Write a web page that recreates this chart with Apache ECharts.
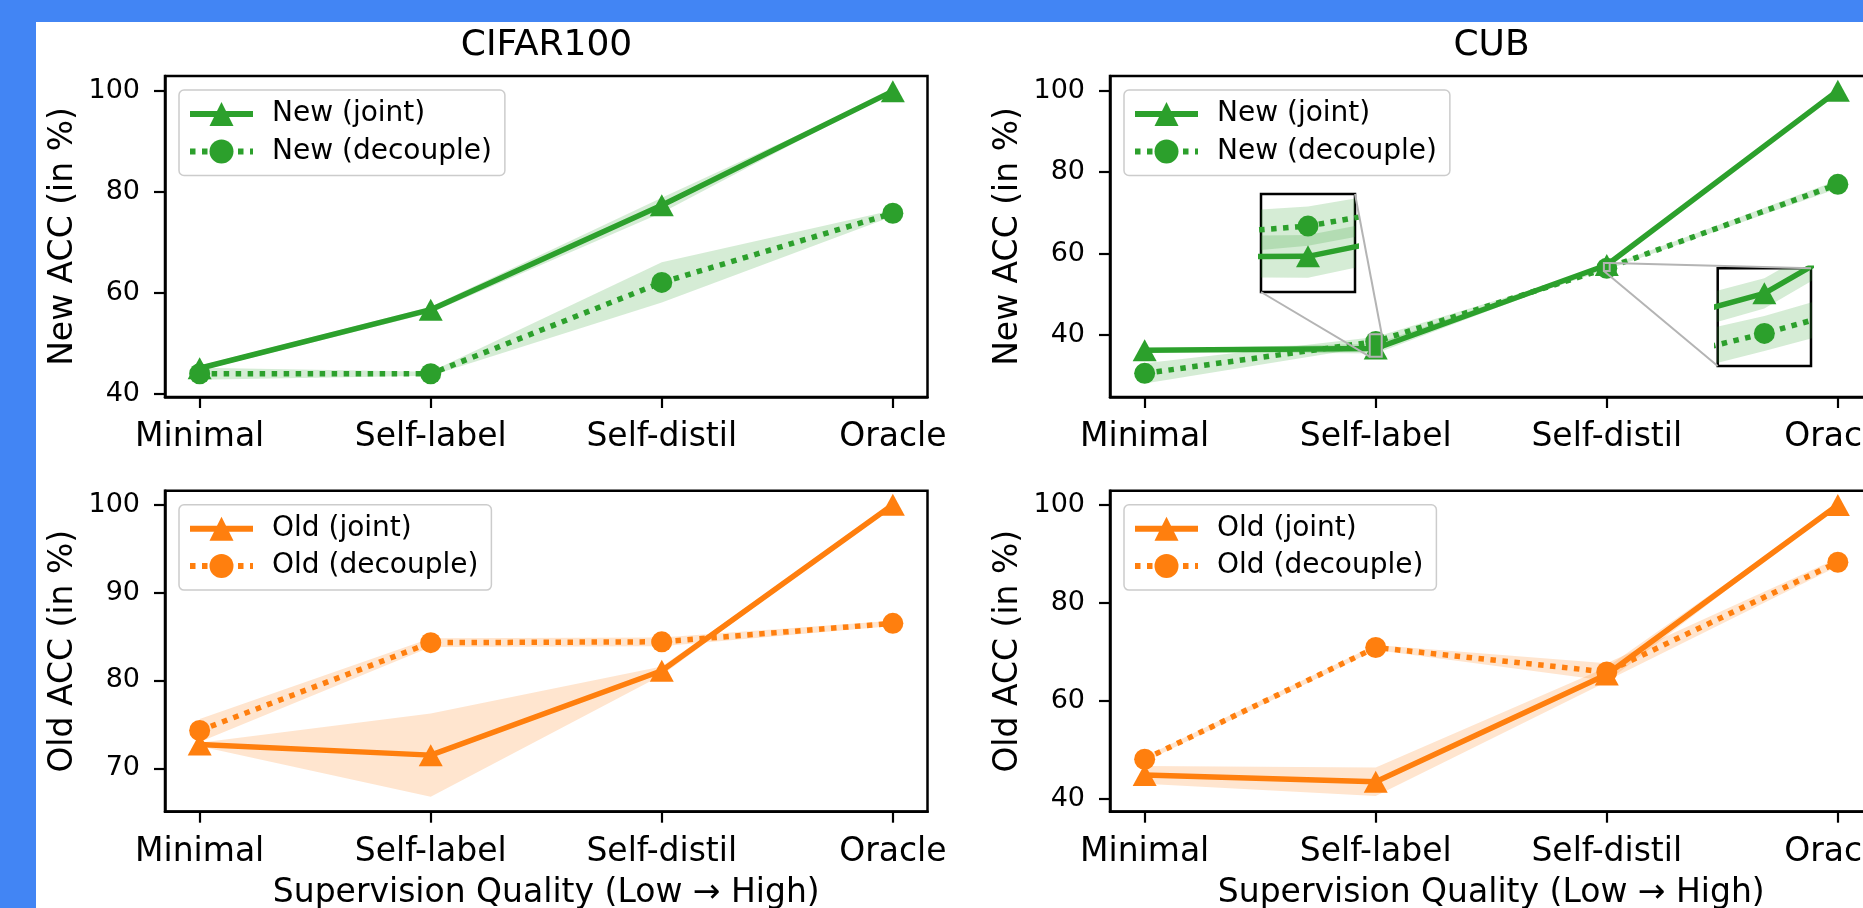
<!DOCTYPE html>
<html>
<head>
<meta charset="utf-8">
<title>Supervision quality</title>
<script src="https://cdn.jsdelivr.net/npm/echarts@6.0.0/dist/echarts.min.js"></script>
<style>
  html, body { margin: 0; padding: 0; background: #4285f4; overflow: hidden; }
  #chart { position: absolute; left: 36px; top: 22px; width: 1827px; height: 886px; background: #fff; }
</style>
</head>
<body>
<div id="chart"></div>
<script>
const categories = ['Minimal', 'Self-label', 'Self-distil', 'Oracle'];

// CIFAR100
const cifarNewJoint = [45.1, 56.7, 77.4, 100];
const cifarNewJointStd = [0.5, 0.6, 1.5, 0];
const cifarNewDecouple = [44.0, 44.0, 62.1, 75.8];
const cifarNewDecoupleStd = [1.2, 0.4, 4.0, 0.6];
const cifarOldJoint = [72.7, 71.5, 81.1, 100];
const cifarOldJointStd = [0.2, 4.75, 0.5, 0];
const cifarOldDecouple = [74.3, 84.3, 84.4, 86.5];
const cifarOldDecoupleStd = [1.3, 0.5, 0.5, 0.3];

// CUB
const cubNewJoint = [36.3, 36.7, 57.2, 100];
const cubNewJointStd = [0.3, 1.2, 0.3, 0];
const cubNewDecouple = [30.6, 38.4, 56.4, 77.0];
const cubNewDecoupleStd = [2.5, 1.1, 0.35, 1.0];
const cubOldJoint = [44.9, 43.5, 65.4, 100];
const cubOldJointStd = [1.8, 2.9, 1.5, 0];
const cubOldDecouple = [48.1, 70.9, 65.9, 88.3];
const cubOldDecoupleStd = [0.5, 0.5, 1.8, 0.8];

// tick labels
const cifarNewTicks = [40, 60, 80, 100];
const cifarOldTicks = [70, 80, 90, 100];
const cubNewTicks = [40, 60, 80, 100];
const cubOldTicks = [40, 60, 80, 100];

const GREEN = '#2ca02c';
const ORANGE = '#ff7f0e';
const GRAY = '#b4b4b4';
const FONT = 'DejaVu Sans';
const xTicks = categories.map((c, i) => i);

const panels = [
  { title: 'CIFAR100', kind: 'New', color: GREEN, left: 129, top: 54, ymin: 39.4, ymax: 103.0, ticks: cifarNewTicks,
    joint: cifarNewJoint, jointStd: cifarNewJointStd, dec: cifarNewDecouple, decStd: cifarNewDecoupleStd },
  { title: 'CUB', kind: 'New', color: GREEN, left: 1074, top: 54, ymin: 24.8, ymax: 103.6, ticks: cubNewTicks,
    joint: cubNewJoint, jointStd: cubNewJointStd, dec: cubNewDecouple, decStd: cubNewDecoupleStd },
  { kind: 'Old', color: ORANGE, left: 129, top: 468.7, ymin: 65.06, ymax: 101.6, ticks: cifarOldTicks,
    joint: cifarOldJoint, jointStd: cifarOldJointStd, dec: cifarOldDecouple, decStd: cifarOldDecoupleStd, xname: true },
  { kind: 'Old', color: ORANGE, left: 1074, top: 468.7, ymin: 37.4, ymax: 102.9, ticks: cubOldTicks,
    joint: cubOldJoint, jointStd: cubOldJointStd, dec: cubOldDecouple, decStd: cubOldDecoupleStd, xname: true }
];

// zoomed insets on the CUB new-class panel
const insets = [
  { main: 1, left: 1225, top: 172, width: 94, height: 98, xr: [0.974, 1.026], yr: [34.7, 40.2] },
  { main: 1, left: 1681.7, top: 246.3, width: 93.3, height: 97.7, xr: [1.9875, 2.0125], yr: [55.75, 57.7] }
];

const tickLine = { color: '#000', width: 2.2 };
const grids = [], xAxes = [], yAxes = [], series = [], legends = [], titles = [];

// shaded mean +- std band, clipped to its grid
function bandSeries(idx, mean, std, color) {
  return {
    type: 'custom', xAxisIndex: idx, yAxisIndex: idx, clip: true, silent: true, z: 1,
    data: [[0, mean[0]]],
    renderItem: function (params, api) {
      const upper = mean.map((m, i) => api.coord([i, m + std[i]]));
      const lower = mean.map((m, i) => api.coord([i, m - std[i]])).reverse();
      return { type: 'polygon', shape: { points: upper.concat(lower) },
        style: { fill: color, opacity: 0.2 } };
    }
  };
}

function lineSeries(idx, name, mean, color, dotted) {
  const s = {
    type: 'line', xAxisIndex: idx, yAxisIndex: idx, z: 3,
    data: mean.map((v, i) => [i, v]),
    symbol: dotted ? 'circle' : 'triangle',
    symbolSize: dotted ? 21 : [24, 22],
    showAllSymbol: true,
    lineStyle: { color: color, width: 5.5, type: dotted ? [5.5, 6.5] : 'solid', cap: 'butt' },
    itemStyle: { color: color, borderWidth: 0 }
  };
  if (name) s.name = name;
  return s;
}

function addSeries(idx, p, named) {
  series.push(bandSeries(idx, p.joint, p.jointStd, p.color));
  series.push(bandSeries(idx, p.dec, p.decStd, p.color));
  series.push(lineSeries(idx, named ? p.kind + ' (joint)' : null, p.joint, p.color, false));
  series.push(lineSeries(idx, named ? p.kind + ' (decouple)' : null, p.dec, p.color, true));
}

panels.forEach((p, g) => {
  grids.push({ left: p.left, top: p.top, width: 762.5, height: 321, show: true,
    borderColor: '#000', borderWidth: 2.5, backgroundColor: 'transparent', outerBoundsMode: 'none' });
  xAxes.push({
    type: 'value', gridIndex: g, min: -0.15, max: 3.15,
    axisLine: { onZero: false, lineStyle: { color: '#000', width: 2.5 } },
    splitLine: { show: false },
    axisTick: { customValues: xTicks, length: 11, lineStyle: tickLine },
    axisLabel: { customValues: xTicks, formatter: v => categories[Math.round(v)], margin: 24,
      fontFamily: FONT, fontSize: 33, color: '#000' },
    name: p.xname ? 'Supervision Quality (Low \u2192 High)' : '',
    nameLocation: 'middle', nameGap: 65,
    nameTextStyle: { fontFamily: FONT, fontSize: 33, color: '#000' }
  });
  yAxes.push({
    type: 'value', gridIndex: g, min: p.ymin, max: p.ymax,
    axisLine: { onZero: false, lineStyle: { color: '#000', width: 2.5 } },
    splitLine: { show: false },
    axisTick: { customValues: p.ticks, length: 11, lineStyle: tickLine },
    axisLabel: { customValues: p.ticks, margin: 25, fontFamily: FONT, fontSize: 27, color: '#000' },
    name: p.kind + ' ACC (in %)', nameLocation: 'middle', nameRotate: 90, nameGap: 85,
    nameTextStyle: { fontFamily: FONT, fontSize: 33, color: '#000' }
  });
  addSeries(g, p, true);
  legends.push({
    left: p.left + 14, top: p.top + 14, orient: 'vertical', selectedMode: false,
    data: [p.kind + ' (joint)', p.kind + ' (decouple)'],
    itemWidth: 63, itemHeight: 30, itemGap: 9.4,
    padding: [10, 13, 10, 8],
    lineStyle: { width: 6 },
    backgroundColor: 'rgba(255,255,255,0.8)', borderColor: '#cccccc', borderWidth: 1.5, borderRadius: 5,
    textStyle: { fontFamily: FONT, fontSize: 28, color: '#000', padding: [0, 0, 0, 14] }
  });
  if (p.title) {
    titles.push({ text: p.title, left: p.left + 381.5, top: 6, textAlign: 'center', padding: 0,
      textStyle: { fontFamily: FONT, fontSize: 36, fontWeight: 'normal', color: '#000' } });
  }
});

insets.forEach((ins, k) => {
  const g = panels.length + k;
  grids.push({ left: ins.left, top: ins.top, width: ins.width, height: ins.height, show: true,
    borderColor: '#000', borderWidth: 2.5, backgroundColor: '#fff', outerBoundsMode: 'none' });
  xAxes.push({ type: 'value', gridIndex: g, min: ins.xr[0], max: ins.xr[1], show: false });
  yAxes.push({ type: 'value', gridIndex: g, min: ins.yr[0], max: ins.yr[1], show: false });
  addSeries(g, panels[ins.main], false);
});

const chart = echarts.init(document.getElementById('chart'));
chart.setOption({
  animation: false,
  title: titles,
  legend: legends,
  grid: grids,
  xAxis: xAxes,
  yAxis: yAxes,
  series: series
});

// mark the zoomed regions and connect them to their insets
const graphics = [];
insets.forEach((ins, k) => {
  const g = panels.length + k;
  const px = (idx, x, y) => chart.convertToPixel({ xAxisIndex: idx, yAxisIndex: idx }, [x, y]);
  const rLL = px(ins.main, ins.xr[0], ins.yr[0]);
  const rUR = px(ins.main, ins.xr[1], ins.yr[1]);
  const iLL = px(g, ins.xr[0], ins.yr[0]);
  const iUR = px(g, ins.xr[1], ins.yr[1]);
  const st = { stroke: GRAY, lineWidth: 2, fill: null };
  graphics.push(
    { type: 'rect', z: 50, shape: { x: rLL[0], y: rUR[1], width: rUR[0] - rLL[0], height: rLL[1] - rUR[1] }, style: st },
    { type: 'line', z: 50, shape: { x1: iLL[0], y1: iLL[1], x2: rLL[0], y2: rLL[1] }, style: st },
    { type: 'line', z: 50, shape: { x1: iUR[0], y1: iUR[1], x2: rUR[0], y2: rUR[1] }, style: st }
  );
});
chart.setOption({ graphic: graphics });
</script>
</body>
</html>
